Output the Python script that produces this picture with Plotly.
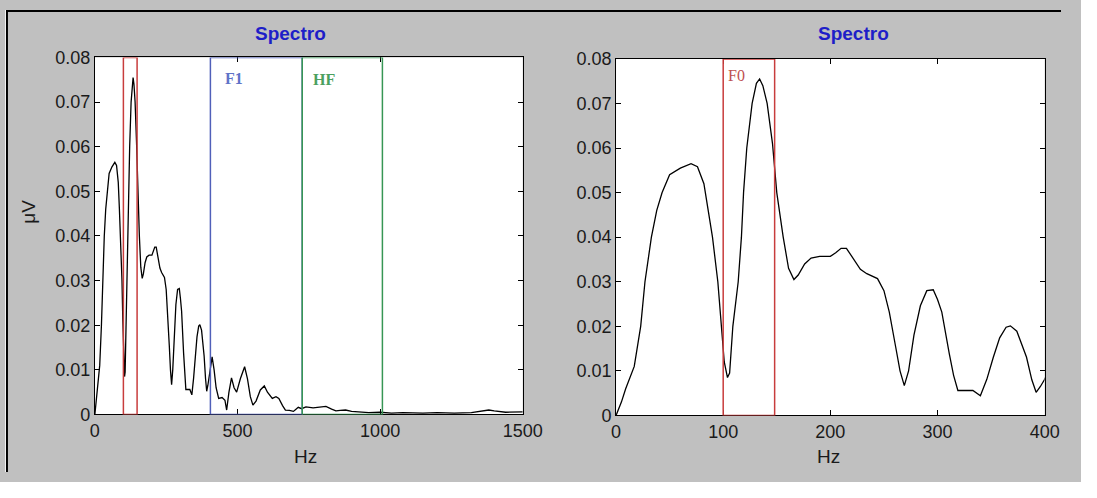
import plotly.graph_objects as go

# ---- data ----
freq_hz = [0, 5, 9, 17, 23, 27, 33, 38, 43, 50, 60, 70, 76, 82, 86, 90, 95, 98, 101, 104,
           106, 109, 114, 117, 119, 122, 127, 131, 134, 137, 141, 146, 150, 156, 161, 166,
           170, 176, 182, 190, 200, 205, 210, 215, 222, 228, 234, 244, 250, 255, 261, 265,
           269, 273, 278, 284, 290, 296, 300, 304, 311, 315, 319, 333, 340, 346, 352, 358,
           364, 368, 374, 383, 388, 392, 396, 400, 405, 411, 418, 425, 434, 446, 456, 462,
           470, 479, 488, 497, 510, 525, 535, 545, 554, 565, 580, 594, 605, 622, 635, 645,
           658, 668, 682, 696, 705, 713, 725, 740, 765, 790, 810, 830, 845, 860, 879, 900,
           936, 960, 1000, 1040, 1080, 1150, 1200, 1260, 1320, 1360, 1381, 1400, 1440, 1500]
amp_uv = [0.0, 0.003, 0.006, 0.011, 0.020, 0.030, 0.040, 0.046, 0.050, 0.054, 0.0555, 0.0565,
          0.0558, 0.052, 0.046, 0.040, 0.030, 0.021, 0.012, 0.0085, 0.0095, 0.020, 0.030,
          0.040, 0.050, 0.060, 0.070, 0.0745, 0.0755, 0.074, 0.070, 0.061, 0.050, 0.040,
          0.033, 0.0305, 0.0315, 0.034, 0.0353, 0.0357, 0.0357, 0.0365, 0.0375, 0.0375,
          0.035, 0.0328, 0.0318, 0.0307, 0.028, 0.0232, 0.0153, 0.010, 0.0067, 0.010, 0.018,
          0.0246, 0.028, 0.0282, 0.026, 0.0232, 0.0138, 0.009, 0.0056, 0.0056, 0.0044,
          0.0081, 0.013, 0.0174, 0.0198, 0.0201, 0.0189, 0.0131, 0.008, 0.0052, 0.0065,
          0.0081, 0.011, 0.0129, 0.010, 0.006, 0.0036, 0.0038, 0.0032, 0.001, 0.005, 0.0082,
          0.006, 0.005, 0.008, 0.0107, 0.008, 0.004, 0.0021, 0.003, 0.0055, 0.0064, 0.005,
          0.0036, 0.004, 0.0036, 0.002, 0.001, 0.0009, 0.0007, 0.0012, 0.0016, 0.0013,
          0.0017, 0.0015, 0.0017, 0.0018, 0.0012, 0.0008, 0.0009, 0.001, 0.0007, 0.0006,
          0.0004, 0.0005, 0.0003, 0.0004, 0.0003, 0.0004, 0.0003, 0.0004, 0.0007, 0.001,
          0.0008, 0.0005, 0.0006]

y_ticks = [0, 0.01, 0.02, 0.03, 0.04, 0.05, 0.06, 0.07, 0.08]
y_tick_labels = ["0", "0.01", "0.02", "0.03", "0.04", "0.05", "0.06", "0.07", "0.08"]
x_ticks_left = [0, 500, 1000, 1500]
x_ticks_right = [0, 100, 200, 300, 400]

bands = [  # name, f_start, f_end
    ("F0", 100, 148),
    ("F1", 405, 727),
    ("HF", 727, 1008),
]
title_text = "Spectro"
x_label = "Hz"
y_label = "μV"

# ---- figure (page body keeps an 8px margin, so the figure is 16px smaller) ----
OFF = 8
W, H = 1097 - 2 * OFF, 498 - 2 * OFF
def px(x):   # x in window pixels -> paper fraction
    return (x - OFF) / W
def py(y):   # y in window pixels -> paper fraction
    return 1 - (y - OFF) / H

fig = go.Figure()
fig.add_trace(go.Scatter(x=freq_hz, y=amp_uv, mode="lines", line=dict(color="black", width=1.3),
                         xaxis="x", yaxis="y", showlegend=False, hoverinfo="skip"))
fig.add_trace(go.Scatter(x=freq_hz, y=amp_uv, mode="lines", line=dict(color="black", width=1.3),
                         xaxis="x2", yaxis="y2", showlegend=False, hoverinfo="skip"))

tickfont = dict(family="Liberation Sans, Arial, sans-serif", size=18, color="#1a1a1a")
axis_common = dict(showline=True, linecolor="black", linewidth=1, mirror="allticks",
                   ticks="inside", ticklen=5, tickcolor="black", showgrid=False,
                   zeroline=False, tickfont=tickfont, fixedrange=True)

fig.update_layout(
    width=W, height=H,
    margin=dict(l=0, r=0, t=0, b=0),
    paper_bgcolor="#c0c0c0",
    plot_bgcolor="white",
    xaxis=dict(domain=[px(100), px(538)], range=[0, 1500], tickvals=x_ticks_left,
               ticktext=[str(v) for v in x_ticks_left], anchor="y", **axis_common),
    yaxis=dict(domain=[py(430), py(57.5)], range=[0, 0.08], tickvals=y_ticks,
               ticktext=y_tick_labels, anchor="x", **axis_common),
    xaxis2=dict(domain=[px(633.5), px(1072.3)], range=[0, 400], tickvals=x_ticks_right,
                ticktext=[str(v) for v in x_ticks_right], anchor="y2", **axis_common),
    yaxis2=dict(domain=[py(431), py(59)], range=[0, 0.08], tickvals=y_ticks,
                ticktext=y_tick_labels, anchor="x2", **axis_common),
)

band_colors = {"F0": "rgb(200,60,60)", "F1": "rgb(80,95,185)", "HF": "rgb(55,150,85)"}
text_colors = {"F0": "rgb(190,80,80)", "F1": "rgb(95,115,200)", "HF": "rgb(75,160,95)"}
shapes = []
annotations = []

for xr, yr in (("x", "y"), ("x2", "y2")):
    name, f0, f1 = bands[0]
    shapes.append(dict(type="rect", xref=xr, yref=yr, x0=f0, x1=f1, y0=0, y1=0.08,
                       line=dict(color=band_colors[name], width=1.5)))
for name, f0, f1 in bands[1:]:
    shapes.append(dict(type="rect", xref="x", yref="y", x0=f0, x1=f1, y0=0, y1=0.08,
                       line=dict(color=band_colors[name], width=1.5)))

serif = "Liberation Serif, Times New Roman, serif"
annotations.append(dict(xref="x", yref="y", x=bands[1][1] + 45, y=0.0752, text="<b>F1</b>",
                        showarrow=False, xanchor="left", yanchor="middle",
                        font=dict(family=serif, size=16, color=text_colors["F1"])))
annotations.append(dict(xref="x", yref="y", x=bands[2][1] + 32, y=0.075, text="<b>HF</b>",
                        showarrow=False, xanchor="left", yanchor="middle",
                        font=dict(family=serif, size=16, color=text_colors["HF"])))
annotations.append(dict(xref="x2", yref="y2", x=bands[0][1] + 3, y=0.0763, text="F0",
                        showarrow=False, xanchor="left", yanchor="middle",
                        font=dict(family=serif, size=16, color=text_colors["F0"])))

titlefont = dict(family="Liberation Sans, Arial, sans-serif", size=19, color="rgb(30,30,200)")
for xc in (300, 877):
    annotations.append(dict(xref="paper", yref="paper", x=px(xc), y=py(32), text="<b>%s</b>" % title_text,
                            showarrow=False, xanchor="center", yanchor="middle", font=titlefont))
labelfont = dict(family="Liberation Sans, Arial, sans-serif", size=19, color="#1a1a1a")
for xc in (316, 851):
    annotations.append(dict(xref="paper", yref="paper", x=px(xc), y=py(474), text=x_label,
                            showarrow=False, xanchor="center", yanchor="middle", font=labelfont))
annotations.append(dict(xref="paper", yref="paper", x=px(32), y=py(218), text=y_label, textangle=-90,
                        showarrow=False, xanchor="center", yanchor="middle", font=labelfont))

# outer frame: black border on top and left
shapes += [
    dict(type="rect", xref="paper", yref="paper", x0=0, x1=px(10), y0=0, y1=1,
         fillcolor="white", line=dict(width=0), layer="below"),
    dict(type="line", xref="paper", yref="paper", x0=px(10), x1=1, y0=py(9), y1=py(9),
         line=dict(color="black", width=2)),
    dict(type="line", xref="paper", yref="paper", x0=px(10), x1=px(10), y0=0, y1=py(8),
         line=dict(color="black", width=2)),
]

fig.update_layout(shapes=shapes, annotations=annotations)
fig.write_html("out.html")
